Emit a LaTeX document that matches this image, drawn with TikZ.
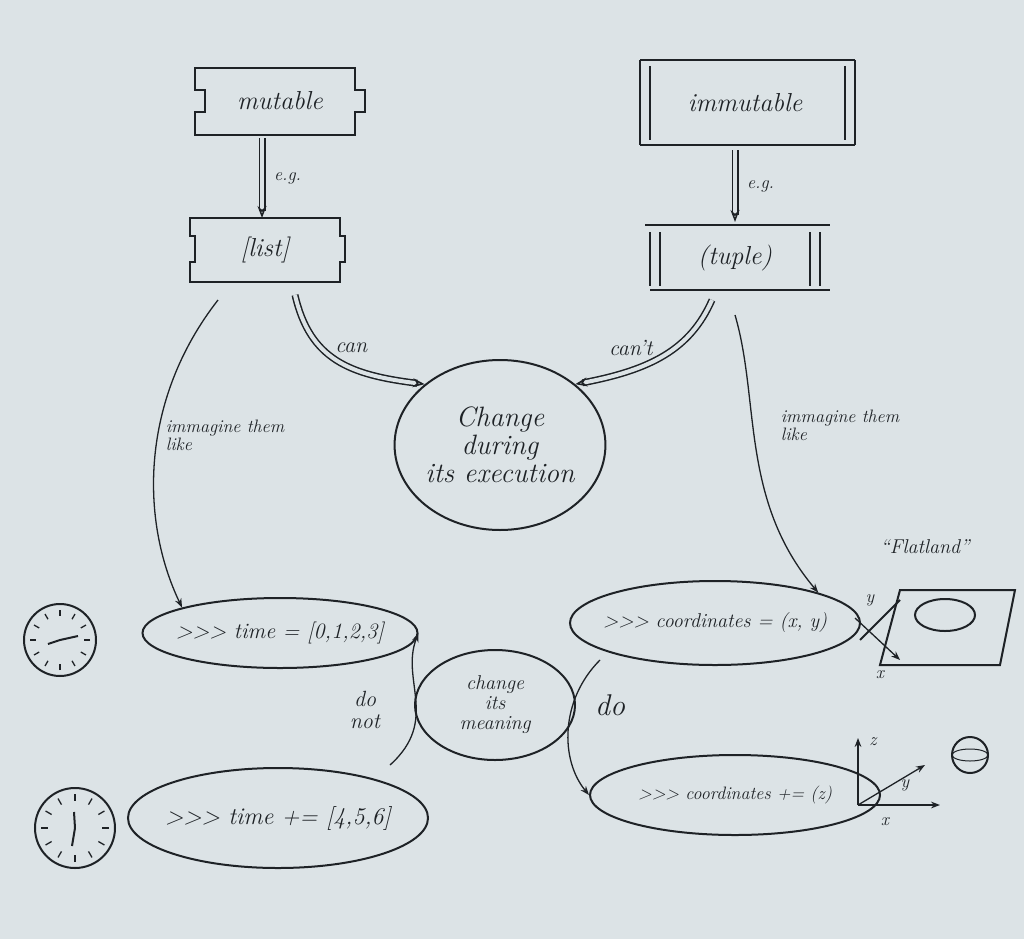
\documentclass[tikz,border=0pt]{standalone}
\usetikzlibrary{arrows.meta,shapes.geometric}
\definecolor{paper}{HTML}{DCE3E6}
\definecolor{ink}{HTML}{1E2226}
\newcommand{\fs}[1]{\fontsize{#1}{#1}\selectfont}
\newcommand{\ppp}{{>}{>}{>}}
\begin{document}
\begin{tikzpicture}[x=1pt,y=-1pt,
  every node/.style={text=ink,font=\itshape\fs{18}},
  inkline/.style={draw=ink,line width=2pt},
  dbl/.style={draw=ink,double=paper,double distance=4pt,line width=1.5pt,-{Stealth[length=12pt,open,line width=1.5pt]}},
  thin/.style={draw=ink,line width=1.3pt,-{Stealth[length=9pt]}},
  ell/.style={ellipse,draw=ink,line width=2pt,inner sep=-10pt,font=\itshape\fs{22}}]
\fill[paper] (0,0) rectangle (1024,939);
\useasboundingbox (0,0) rectangle (1024,939);
% mutable banner
\draw[inkline] (195,68)--(355,68)--(355,90)--(365,90)--(365,112)--(355,112)--(355,135)--(195,135)--(195,112)--(205,112)--(205,90)--(195,90)--cycle;
\node[font=\itshape\fs{26}] (mut) at (280,101) {mutable};
\coordinate (mutb) at (262,138);
\draw[inkline] (190,218)--(340,218)--(340,236)--(345,236)--(345,262)--(340,262)--(340,282)--(190,282)--(190,262)--(195,262)--(195,236)--(190,236)--cycle;
\node[font=\itshape\fs{26}] (list) at (265,250) {[list]};
\coordinate (listt) at (262,218);
\draw[dbl] (mutb)--(listt) node[midway,right=8pt] {e.g.};
% immutable
\draw[inkline] (640,60)--(855,60) (640,145)--(855,145) (640,60)--(640,145) (650,66)--(650,140) (845,66)--(845,140) (855,60)--(855,145);
\node[font=\itshape\fs{26}] (imm) at (745,103) {immutable};
\coordinate (immb) at (735,150);
\draw[inkline] (645,225)--(830,225) (650,290)--(830,290) (650,232)--(650,286) (660,232)--(660,286) (810,232)--(810,286) (820,232)--(820,286);
\node[font=\itshape\fs{26}] (tup) at (735,258) {(tuple)};
\coordinate (tupt) at (735,222);
\draw[dbl] (immb)--(tupt) node[midway,right=8pt] {e.g.};
% central circle
\node[ellipse,draw=ink,line width=2pt,minimum width=200pt,minimum height=170pt,inner sep=0pt,align=center,font=\itshape\fs{28}] (chg) at (500,445) {Change\\during\\its execution};
\coordinate (lists) at (295,295);
\coordinate (tups) at (712,300);
\draw[dbl] (lists) .. controls (310,360) and (350,375) .. (chg.north west) node[pos=0.45,above right] {\fs{22}can};
\draw[dbl] (tups) .. controls (690,350) and (650,370) .. (chg.north east) node[pos=0.55,above left] {\fs{22}can't};
% ellipses
\node[ell,minimum width=275pt,minimum height=70pt] (t1) at (280,633) {\ppp\ time = [0,1,2,3]};
\node[ell,minimum width=300pt,minimum height=100pt,font=\itshape\fs{24}] (t2) at (278,818) {\ppp\ time += [4,5,6]};
\node[ell,minimum width=290pt,minimum height=84pt,font=\itshape\fs{20}] (c1) at (715,623) {\ppp\ coordinates = (x, y)};
\node[ell,minimum width=290pt,minimum height=80pt,font=\itshape\fs{18}] (c2) at (735,795) {\ppp\ coordinates += (z)};
\node[ellipse,draw=ink,line width=2pt,minimum width=160pt,minimum height=110pt,inner sep=0pt,align=center,font=\itshape\fs{20}] (mean) at (495,705) {change\\its\\meaning};
% imagine arrows
\coordinate (lists2) at (218,300);
\draw[thin] (lists2) .. controls (140,400) and (140,520) .. (t1.north west) ;
\node[align=left] (im1) at (225,435) {immagine them\\like};
\coordinate (tups2) at (735,315);
\draw[thin] (tups2) .. controls (760,400) and (740,500) .. (c1.north east);
\node[align=left] (im2) at (840,425) {immagine them\\like};
% do not / do
\coordinate (dn) at (390,765);
\draw[thin] (dn) .. controls (440,720) and (400,680) .. (t1.east);
\node[align=center,font=\itshape\fs{22}] (dnl) at (365,710) {do\\not};
\coordinate (ds) at (600,660);
\draw[thin] (ds) .. controls (560,700) and (560,760) .. (c2.west);
\node[font=\itshape\fs{30}] (dol) at (610,705) {do};
% clocks
\draw[inkline] (60,640) circle (36);
\foreach \a in {0,30,...,330} \draw[ink,line width=1.3pt] (60,640)+(\a:30)--+(\a:24);
\draw[inkline] (60,640)--(78,636) (60,640)--(48,644);
\draw[inkline] (75,828) circle (40);
\foreach \a in {0,30,...,330} \draw[ink,line width=1.3pt] (75,828)+(\a:34)--+(\a:27);
\draw[inkline] (75,828)--(72,846) (75,828)--(74,812);
% flatland
\node[font=\itshape\fs{20}] (flat) at (925,547) {``Flatland''};
\draw[inkline] (880,665)--(1000,665)--(1015,590)--(900,590)--cycle;
\draw[inkline] (945,615) ellipse (30 and 16);
\draw[thin] (855,618)--(900,660);
\draw[inkline] (860,640)--(900,600);
\node (fx) at (880,675) {x};
\node (fy) at (870,600) {y};
% 3d axes
\draw[thin] (858,805)--(858,738);
\draw[thin] (858,805)--(940,805);
\draw[thin] (858,805)--(925,765);
\node (az) at (873,742) {z};
\node (ay) at (905,785) {y};
\node (ax) at (885,822) {x};
\draw[inkline] (970,755) circle (18);
\draw[ink,line width=1pt] (970,755) ellipse (18 and 6);
\end{tikzpicture}
\end{document}
